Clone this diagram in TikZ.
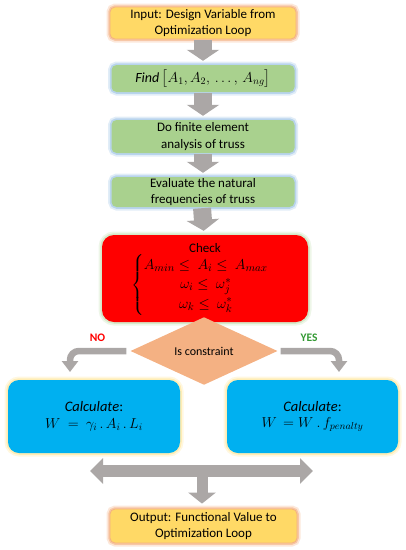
\documentclass[tikz,border=0pt]{standalone}
\usepackage{amsmath}
\usepackage{fontspec}
\setmainfont{Carlito}
\usetikzlibrary{shapes.geometric,arrows.meta}
\definecolor{goldf}{HTML}{FFD966}
\definecolor{orangeglow}{HTML}{F4B183}
\definecolor{greenf}{HTML}{A9D18E}
\definecolor{blueglow}{HTML}{9DC3E6}
\definecolor{redf}{HTML}{FF0000}
\definecolor{greenglow}{HTML}{C5E0B4}
\definecolor{diaf}{HTML}{F4B183}
\definecolor{bluef}{HTML}{00B0F0}
\definecolor{yellowglow}{HTML}{FFE699}
\definecolor{arrowgray}{HTML}{ABA7A6}
\definecolor{yesgreen}{HTML}{339933}
\begin{document}
\begin{tikzpicture}[x=1pt,y=-1pt,
  glow/.style={preaction={draw=#1,line width=7pt,opacity=0.3},preaction={draw=#1,line width=3.5pt,opacity=0.6}},
  box/.style={rounded corners=5pt,align=center,inner sep=0pt,font=\fontsize{13}{16.5}\selectfont},
  iobox/.style={box,fill=goldf,draw=orangeglow,line width=0.8pt,glow=orangeglow},
  stepbox/.style={box,fill=greenf,glow=blueglow},
  calcbox/.style={box,rounded corners=11pt,fill=bluef,glow=yellowglow,font=\fontsize{14.5}{16.5}\selectfont},
  blockarrow/.style={draw=arrowgray,line width=18pt,-{Triangle[width=32pt,length=11pt]},arrowgray},
  elbowarrow/.style={draw=arrowgray,line width=6.5pt,rounded corners=9pt,-{Triangle[width=16pt,length=11pt]},arrowgray},
  lbl/.style={font=\bfseries\fontsize{11.5}{13}\selectfont}
]
\useasboundingbox (0,0) rectangle (406,550);

\node[iobox,minimum width=186pt,minimum height=32pt] (in) at (203,23) {Input: Design Variable from\\Optimization Loop};
\node[stepbox,minimum width=183pt,minimum height=27pt,font=\fontsize{14}{16}\selectfont] (find) at (203,78.5) {$\mathit{Find}\,\big[A_1, A_2,\, \ldots,\, A_{ng}\big]$};
\node[stepbox,minimum width=183pt,minimum height=33pt] (fea) at (203,136.5) {Do finite element\\analysis of truss};
\node[stepbox,minimum width=183pt,minimum height=30pt] (nat) at (203,192) {Evaluate the natural\\frequencies of truss};
\node[box,rounded corners=12pt,fill=redf,glow=greenglow,minimum width=206pt,minimum height=87pt,font=\fontsize{13}{16}\selectfont] (check) at (205,278.5)
  {\begin{tabular}{@{}c@{}}Check\\[-3pt]\fontsize{15}{17}\selectfont$\renewcommand{\arraystretch}{1.12}\left\{\begin{array}{@{}c@{}} A_{min}\le\ A_i\le\ A_{max}\\ \omega_i\le\ \omega_j^*\\ \omega_k\le\ \omega_k^*\end{array}\right.\hspace{10pt}$\end{tabular}};
\node[diamond,fill=diaf,inner sep=0pt,minimum width=147pt,minimum height=48pt,font=\fontsize{12}{14}\selectfont] (dia) at (204,351) {Is constraint};
\node[calcbox,minimum width=172pt,minimum height=73pt] (calcl) at (94,416.5) {$\mathit{Calculate}$:\\$W\ =\ \gamma_i\,.\,A_i\,.\,L_i$};
\node[calcbox,minimum width=171pt,minimum height=73pt] (calcr) at (312.5,416.5) {$\mathit{Calculate}$:\\$W\,=W\ .\,f_{penalty}$};
\node[iobox,minimum width=187pt,minimum height=34pt] (out) at (203.5,526) {Output: Functional Value to\\Optimization Loop};

\node[lbl,text=red] (no) at (97.5,338) {NO};
\node[lbl,text=yesgreen] (yes) at (309,338) {YES};

\draw[blockarrow,shorten <=1pt,shorten >=4pt] (in.south) -- (find.north);
\draw[blockarrow,shorten <=1pt,shorten >=4pt] (find.south) -- (fea.north);
\draw[blockarrow,shorten <=1pt,shorten >=4pt] (fea.south) -- (nat.north);
\draw[blockarrow,shorten <=1pt,shorten >=4pt] ([xshift=-1pt]nat.south) -- ([xshift=-1pt]check.north);

\coordinate (nl) at (70,380);
\coordinate (nr) at (339,380);
\draw[elbowarrow,shorten <=4pt,shorten >=8pt] (dia.west) -| (nl);
\draw[elbowarrow,shorten <=3pt,shorten >=8pt] (dia.east) -| (nr);

\coordinate (bl) at (90,471);
\coordinate (br) at (313,471);
\coordinate (bm) at (202,471);
\draw[arrowgray,line width=12pt,{Triangle[width=25pt,length=13pt]}-{Triangle[width=25pt,length=13pt]}] (bl) -- (br);
\draw[arrowgray,line width=11pt,-{Triangle[width=27pt,length=11pt]},shorten >=5pt] (bm) -- (bm |- out.north);
\end{tikzpicture}
\end{document}
